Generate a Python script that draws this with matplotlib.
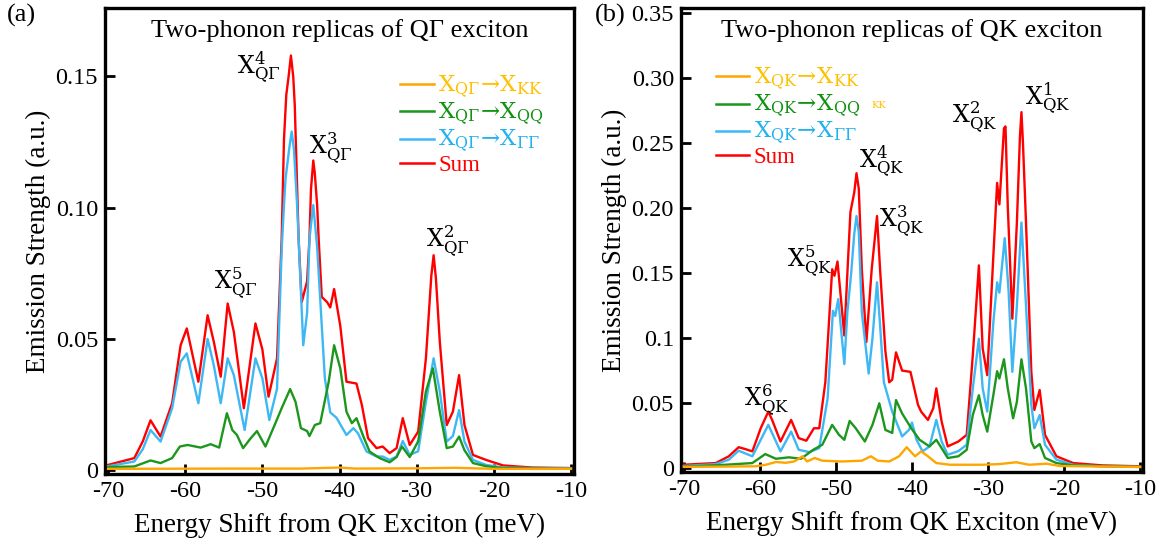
import numpy as np
import matplotlib
matplotlib.use('Agg')
import matplotlib.pyplot as plt
from matplotlib.lines import Line2D

plt.rcParams['font.family'] = ['Liberation Serif', 'DejaVu Sans']
plt.rcParams['mathtext.fontset'] = 'dejavuserif'
plt.rcParams['axes.unicode_minus'] = False

# ---------------- panel (a): QGamma exciton ----------------
a_red_x = [-70, -66.6, -65.5, -64.5, -63.2, -61.7, -60.6, -59.8, -58.3, -57.1, -56.3, -55.4, -54.5, -53.7,
           -52.4, -50.9, -50.0, -49.2, -48.1, -47.5, -47.2, -46.9, -46.6, -46.3, -46.0, -45.8, -45.3, -44.9,
           -44.2, -43.9, -43.7, -43.4, -43.2, -42.9, -42.7, -42.3, -41.6, -41.2, -40.7, -39.9, -39.1, -37.8,
           -37.1, -36.3, -35.2, -34.4, -33.5, -32.6, -31.8, -30.9, -29.8, -28.8, -28.1, -27.8, -27.5, -27.0,
           -26.1, -25.3, -24.5, -23.8, -22.7, -21.0, -18.8, -15, -10]
a_red_y = [0.002, 0.0046, 0.011, 0.019, 0.0128, 0.0255, 0.0476, 0.054, 0.0337, 0.059, 0.049, 0.0356, 0.0635, 0.0527,
           0.0236, 0.0559, 0.046, 0.028, 0.0426, 0.088, 0.126, 0.143, 0.150, 0.158, 0.150, 0.139, 0.088, 0.064,
           0.072, 0.088, 0.107, 0.118, 0.113, 0.101, 0.088, 0.066, 0.064, 0.062, 0.069, 0.055, 0.0337, 0.033,
           0.0248, 0.0122, 0.0084, 0.009, 0.0065, 0.0084, 0.0198, 0.0096, 0.0147, 0.0426, 0.074, 0.0819, 0.073, 0.049,
           0.0172, 0.0223, 0.0362, 0.0172, 0.0058, 0.0039, 0.0018, 0.001, 0.0008]

a_blue_x = [-70, -66.6, -65.5, -64.5, -63.2, -61.7, -60.6, -59.8, -58.3, -57.1, -56.3, -55.4, -54.5, -53.7,
            -52.3, -50.9, -50.0, -49.1, -48.1, -47.5, -47.2, -47.0, -46.5, -46.2, -45.9, -45.5, -45.3, -44.7,
            -44.2, -43.9, -43.6, -43.4, -42.9, -42.4, -41.9, -41.2, -40.4, -39.1, -38.2, -37.6, -36.5, -35.2,
            -34.4, -33.5, -32.6, -31.8, -30.9, -29.8, -28.8, -27.8, -27.0, -26.1, -25.3, -24.5, -23.8, -22.7,
            -21.0, -18.8, -15, -10]
a_blue_y = [0.0015, 0.0033, 0.008, 0.0153, 0.0109, 0.0236, 0.0413, 0.0445, 0.0255, 0.050, 0.040, 0.0255, 0.0426, 0.0362,
            0.0153, 0.0426, 0.035, 0.0191, 0.031, 0.084, 0.101, 0.111, 0.123, 0.129, 0.122, 0.101, 0.088, 0.0476,
            0.06, 0.088, 0.096, 0.101, 0.085, 0.06, 0.035, 0.022, 0.020, 0.0134, 0.016, 0.014, 0.0071, 0.0052,
            0.0052, 0.0039, 0.0052, 0.0111, 0.0058, 0.0072, 0.026, 0.0426, 0.030, 0.0109, 0.013, 0.0229, 0.0109, 0.0039,
            0.002, 0.001, 0.0008, 0.0007]

a_green_x = [-70, -66.6, -64.5, -63.2, -61.7, -60.7, -59.7, -58.0, -56.7, -55.6, -54.6, -53.9, -53.3, -52.5,
             -51.5, -50.7, -49.6, -48.5, -47.5, -46.4, -45.7, -45.0, -44.2, -43.9, -43.2, -42.5, -41.4, -40.7,
             -39.9, -39.1, -38.4, -37.8, -36.9, -36.1, -34.8, -33.5, -32.6, -31.9, -30.9, -29.8, -28.8, -27.9,
             -27.0, -26.1, -25.3, -24.5, -23.8, -22.7, -21.0, -18.8, -10]
a_green_y = [0.0012, 0.0014, 0.0037, 0.0027, 0.0046, 0.009, 0.0096, 0.0086, 0.0099, 0.0086, 0.0217, 0.0153, 0.0134, 0.0084,
             0.0122, 0.0149, 0.009, 0.0166, 0.0236, 0.0309, 0.026, 0.016, 0.0149, 0.013, 0.0172, 0.0179, 0.0337, 0.0476,
             0.0388, 0.0223, 0.0179, 0.0198, 0.0128, 0.0071, 0.0046, 0.003, 0.005, 0.009, 0.005, 0.011, 0.030, 0.0388,
             0.0223, 0.0084, 0.009, 0.0128, 0.0076, 0.0027, 0.0015, 0.0008, 0.0005]

a_orange_x = [-70, -55, -45, -40, -38, -30, -25, -20, -10]
a_orange_y = [0.0005, 0.0006, 0.0006, 0.0010, 0.0006, 0.0007, 0.0009, 0.0005, 0.0005]

# ---------------- panel (b): QK exciton ----------------
b_red_x = [-70, -65.8, -64.1, -62.8, -61.9, -61.0, -59.9, -58.9, -58.4, -57.3, -55.9, -54.9, -53.9, -52.9,
           -52.2, -51.4, -50.5, -50.2, -49.8, -48.9, -48.5, -48.1, -47.6, -47.3, -47.0, -46.6, -46.0, -45.3,
           -44.6, -44.2, -43.5, -43.0, -42.6, -42.1, -41.3, -40.2, -39.2, -38.8, -37.9, -37.2, -36.8, -36.1,
           -35.3, -33.9, -32.8, -32.0, -31.2, -30.7, -30.1, -29.3, -28.8, -28.5, -27.9, -27.7, -27.4, -26.8,
           -26.2, -25.8, -25.6, -25.4, -25.0, -24.3, -23.9, -23.2, -22.5, -21.0, -18.8, -15, -10]
b_red_y = [0.0025, 0.0038, 0.009, 0.016, 0.0145, 0.0128, 0.0306, 0.0434, 0.037, 0.0204, 0.037, 0.023, 0.021, 0.0306,
           0.0306, 0.066, 0.153, 0.148, 0.159, 0.102, 0.15, 0.197, 0.212, 0.227, 0.215, 0.153, 0.097, 0.153,
           0.194, 0.153, 0.09, 0.066, 0.068, 0.089, 0.075, 0.074, 0.0485, 0.0434, 0.037, 0.046, 0.0613, 0.0357,
           0.0166, 0.0204, 0.0255, 0.0868, 0.156, 0.092, 0.0715, 0.163, 0.2195, 0.203, 0.2616, 0.263, 0.2016, 0.115,
           0.189, 0.255, 0.274, 0.250, 0.189, 0.074, 0.0447, 0.060, 0.0255, 0.009, 0.0038, 0.002, 0.0013]

b_blue_x = [-70, -65.8, -64.1, -62.8, -61.0, -59.9, -58.9, -57.3, -55.9, -54.9, -53.5, -52.2, -51.1, -50.4,
            -50.1, -49.7, -48.9, -48.5, -48.0, -47.6, -47.3, -47.0, -46.6, -45.7, -45.2, -44.6, -44.2, -43.7,
            -42.6, -41.3, -40.4, -40.0, -39.4, -38.6, -37.7, -36.8, -36.1, -35.3, -33.9, -32.8, -32.0, -31.2,
            -30.7, -30.1, -29.3, -28.8, -28.5, -27.8, -27.3, -26.8, -26.2, -25.6, -25.0, -24.3, -23.9, -23.2,
            -22.5, -21.0, -18.8, -15, -10]
b_blue_y = [0.0015, 0.003, 0.0064, 0.0133, 0.009, 0.0217, 0.0332, 0.0128, 0.028, 0.014, 0.0122, 0.0153, 0.0536, 0.121,
            0.117, 0.130, 0.080, 0.12, 0.15, 0.180, 0.194, 0.182, 0.12, 0.0727, 0.10, 0.143, 0.11, 0.066,
            0.0434, 0.0243, 0.0293, 0.035, 0.0217, 0.0128, 0.0166, 0.037, 0.0204, 0.0102, 0.013, 0.0179, 0.0613, 0.0995,
            0.0613, 0.0434, 0.112, 0.143, 0.135, 0.177, 0.137, 0.074, 0.125, 0.189, 0.125, 0.0485, 0.0306, 0.0408,
            0.0179, 0.0064, 0.0025, 0.0012, 0.0008]

b_green_x = [-70, -64.5, -61, -59.3, -57.9, -56.2, -54.6, -53.0, -51.8, -50.5, -49.6, -48.9, -48.2, -47.4,
             -46.2, -45.2, -44.3, -43.5, -42.6, -42.1, -41.3, -40.1, -39.0, -37.7, -36.8, -36.1, -35.3, -33.9,
             -32.8, -32.0, -31.2, -30.7, -30.1, -29.3, -28.8, -28.5, -27.9, -27.4, -26.7, -26.2, -25.6, -25.0,
             -24.3, -23.9, -23.2, -22.5, -21.0, -18.8, -10]
b_green_y = [0.001, 0.0025, 0.0038, 0.0107, 0.0071, 0.0082, 0.0071, 0.014, 0.0179, 0.0332, 0.0255, 0.0217, 0.0362, 0.0306,
             0.0204, 0.0332, 0.0498, 0.0293, 0.027, 0.0523, 0.042, 0.0306, 0.0217, 0.0166, 0.0217, 0.0153, 0.0077, 0.009,
             0.014, 0.0408, 0.056, 0.0408, 0.028, 0.056, 0.0745, 0.0689, 0.0837, 0.0613, 0.0383, 0.051, 0.0837, 0.0613,
             0.0204, 0.0153, 0.0184, 0.0077, 0.0038, 0.002, 0.0008]

b_orange_x = [-70, -60.6, -59.2, -57.9, -56.6, -55.5, -54.4, -53.8, -52.8, -51.8, -49.2, -46.6, -45.4, -44.5,
              -43.0, -41.7, -40.7, -39.6, -38.8, -37.9, -36.8, -35.0, -30.7, -28.5, -26.3, -24.6, -22.3, -20.5, -10]
b_orange_y = [0.0008, 0.0013, 0.0025, 0.0046, 0.004, 0.005, 0.009, 0.005, 0.0077, 0.0056, 0.005, 0.0056, 0.009, 0.0056,
              0.005, 0.009, 0.016, 0.009, 0.0128, 0.009, 0.0038, 0.0025, 0.0025, 0.003, 0.0044, 0.0025, 0.0033, 0.0015, 0.0008]

x_ticks = [-70, -60, -50, -40, -30, -20, -10]
a_yticks = [0, 0.05, 0.10, 0.15]
a_yticklabels = ['0', '0.05', '0.10', '0.15']
b_yticks = [0, 0.05, 0.1, 0.15, 0.20, 0.25, 0.30, 0.35]
b_yticklabels = ['0', '0.05', '0.1', '0.15', '0.20', '0.25', '0.30', '0.35']

a_peaks = [('4', -50.5, 0.1536), ('3', -41.2, 0.1224), ('5', -53.5, 0.071), ('2', -26.0, 0.087)]
b_peaks = [('1', -22.1, 0.285), ('2', -31.8, 0.270), ('4', -44.0, 0.236), ('3', -41.3, 0.190),
           ('5', -53.5, 0.159), ('6', -59.1, 0.052)]

c_red = '#FF0000'
c_blue = '#3DB8F5'
c_green = '#1C961C'
c_orange = '#FFA500'
t_orange = '#FFC000'
t_green = '#119111'
t_blue = '#22B2EE'


def style_axes(ax, yticks, yticklabels, ymax):
    ax.set_xlim(-70.4, -9.6)
    ax.set_ylim(-0.0015 * ymax / 0.176, ymax)
    ax.set_xticks(x_ticks)
    ax.set_xticklabels([str(t) for t in x_ticks])
    ax.set_yticks(yticks)
    ax.set_yticklabels(yticklabels)
    ax.tick_params(direction='in', length=7, width=2, labelsize=17.5, pad=5)
    for sp in ax.spines.values():
        sp.set_linewidth(2.4)
    ax.set_xlabel('Energy Shift from QK Exciton (meV)', fontsize=19.5, labelpad=8)
    ax.set_ylabel('Emission Strength (a.u.)', fontsize=19.5, labelpad=3)


def draw_panel(ax, red, blue, green, orange):
    kw = dict(lw=1.7, solid_joinstyle='round')
    ax.plot(*red, color=c_red, zorder=3, **kw)
    ax.plot(*blue, color=c_blue, zorder=4, **kw)
    ax.plot(*green, color=c_green, zorder=5, **kw)
    ax.plot(*orange, color=c_orange, zorder=6, **kw)


def add_legend(ax, sub, anchor):
    handles = [Line2D([], [], color=c, lw=1.8) for c in (c_orange, c_green, c_blue, c_red)]
    head = r'$\mathrm{X}_{\mathrm{' + sub + r'}}\!\rightarrow\!'
    labels = [head + r'\mathrm{X}_{\mathrm{KK}}$',
              head + r'\mathrm{X}_{\mathrm{QQ}}$',
              head + r'\mathrm{X}_{\mathrm{\Gamma\Gamma}}$',
              'Sum']
    ax.legend(handles, labels, loc='upper left', bbox_to_anchor=anchor, frameon=False,
              handlelength=1.45, handletextpad=0.2, labelspacing=0.0, borderaxespad=0, borderpad=0,
              prop={'family': ['Liberation Serif', 'DejaVu Sans'], 'size': 16.5},
              labelcolor=[t_orange, t_green, t_blue, c_red])


fig = plt.figure(figsize=(11.76, 5.5), dpi=100)
ax1 = fig.add_axes([0.0893, 0.138, 0.3988, 0.847])
ax2 = fig.add_axes([0.579, 0.142, 0.393, 0.843])

draw_panel(ax1, (a_red_x, a_red_y), (a_blue_x, a_blue_y), (a_green_x, a_green_y), (a_orange_x, a_orange_y))
draw_panel(ax2, (b_red_x, b_red_y), (b_blue_x, b_blue_y), (b_green_x, b_green_y), (b_orange_x, b_orange_y))

style_axes(ax1, a_yticks, a_yticklabels, 0.176)
style_axes(ax2, b_yticks, b_yticklabels, 0.354)

ax1.text(0.5, 0.953, 'Two-phonon replicas of Q\u0393 exciton', transform=ax1.transAxes,
         ha='center', va='center', fontsize=19)
ax2.text(0.5, 0.953, 'Two-phonon replicas of QK exciton', transform=ax2.transAxes,
         ha='center', va='center', fontsize=19)

for n, x, y in a_peaks:
    ax1.text(x, y, r'$\mathrm{X}^{' + n + r'}_{\mathrm{Q\Gamma}}$', ha='center', va='center', fontsize=17)
for n, x, y in b_peaks:
    ax2.text(x, y, r'$\mathrm{X}^{' + n + r'}_{\mathrm{QK}}$', ha='center', va='center', fontsize=17)

add_legend(ax1, r'Q\Gamma', (0.63, 0.86))
add_legend(ax2, 'QK', (0.076, 0.876))
ax2.text(-44.4, 0.279, 'KK', color=t_orange, fontsize=7, family='DejaVu Serif', ha='center', va='center')

fig.text(0.006, 0.972, '(a)', fontsize=19, ha='left', va='center')
fig.text(0.506, 0.972, '(b)', fontsize=19, ha='left', va='center')

fig.savefig('out.png', dpi=100)
